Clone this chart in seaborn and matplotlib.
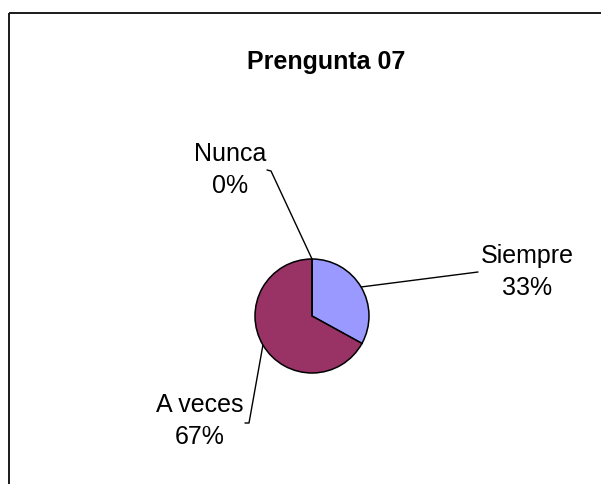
import numpy as np
import seaborn as sns
import matplotlib
matplotlib.use("Agg")
import matplotlib.pyplot as plt
from matplotlib.patches import Rectangle

# data
categories = ["Siempre", "A veces", "Nunca"]
percentages = [33, 67, 0]
colors = ["#9999FF", "#993366", "#FFFFCC"]
title = "Prengunta 07"

sns.set_style("white")
plt.rcParams["font.family"] = ["Liberation Sans", "DejaVu Sans"]
plt.rcParams["font.size"] = 18
plt.rcParams["text.color"] = "black"

W, H = 601, 484
fig = plt.figure(figsize=(W / 100, H / 100), dpi=100)

# overlay axes in pixel coords (y down) for frame, title, labels
ov = fig.add_axes([0, 0, 1, 1])
ov.set_xlim(0, W)
ov.set_ylim(H, 0)
ov.axis("off")

# pie: centre (312, 316), radius 57 px
cx, cy, r = 312, 316, 57
pax = fig.add_axes([(cx - r) / W, 1 - (cy + r) / H, 2 * r / W, 2 * r / H])
wedges, _ = pax.pie(
    percentages, colors=colors, startangle=90, counterclock=False,
    wedgeprops=dict(edgecolor="black", linewidth=1.1),
)
pax.set_xlim(-1, 1)
pax.set_ylim(-1, 1)
pax.set_aspect("auto")
pax.axis("off")

ov.add_patch(Rectangle((9, 12.5), 700, 600, fill=False,
                       edgecolor="#1a1a1a", linewidth=1.4))
ov.text(326.5, 62, title, ha="center", va="center", fontweight="bold")

# label centre, leader start (next to text), optional small tick
label_pos = {
    "Siempre": dict(text=(527, 272), lead=[(478, 272)]),
    "A veces": dict(text=(200, 421), lead=[(245, 423), (249, 423)]),
    "Nunca": dict(text=(230, 170), lead=[(267, 170), (271, 171)]),
}

to_px = pax.transData + ov.transData.inverted()
for cat, pct, w in zip(categories, percentages, wedges):
    mid = np.deg2rad((w.theta1 + w.theta2) / 2)
    edge = to_px.transform((np.cos(mid), np.sin(mid)))
    pos = label_pos[cat]
    ov.text(*pos["text"], f"{cat}\n{pct}%", ha="center", va="center",
            multialignment="center", linespacing=1.45)
    pts = pos["lead"] + [tuple(edge)]
    xs, ys = zip(*pts)
    ov.plot(xs, ys, color="black", linewidth=1.0)

fig.savefig("out.png", dpi=100)
